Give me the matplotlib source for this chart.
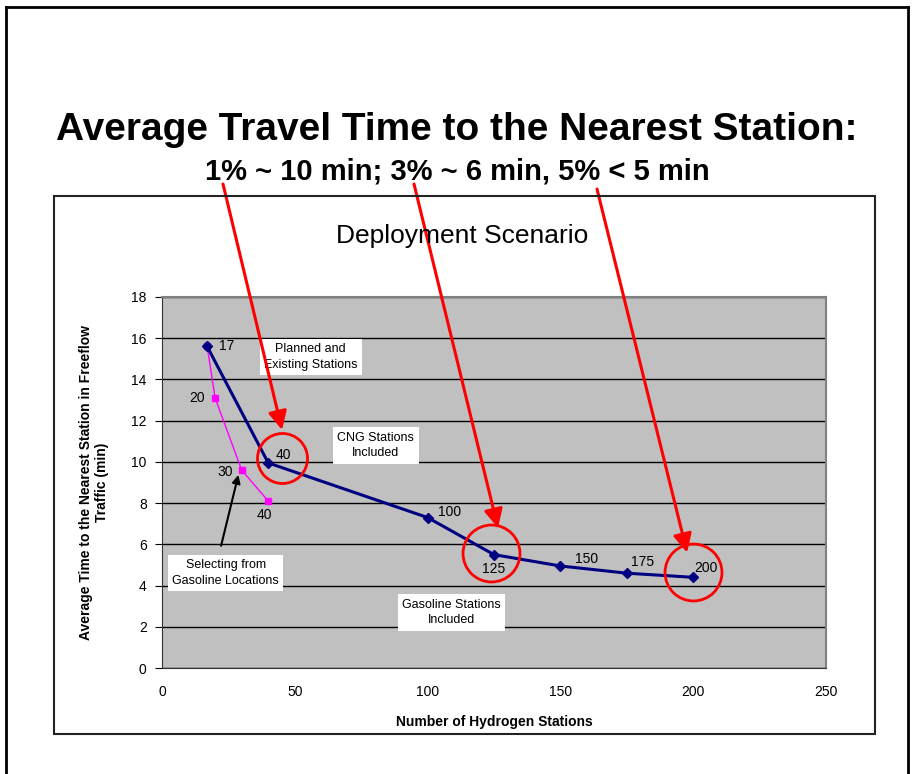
import matplotlib.pyplot as plt
from matplotlib.patches import Rectangle
from matplotlib.lines import Line2D

# deployment scenario: stations vs avg travel time (min)
stations = [17, 40, 100, 125, 150, 175, 200]
travel_time = [15.6, 9.95, 7.3, 5.5, 4.95, 4.6, 4.4]

# selecting from gasoline locations only
gas_stations = [17, 20, 30, 40]
gas_time = [15.6, 13.1, 9.6, 8.1]

# points called out in the subtitle
highlight_x = [45, 124, 200]
highlight_y = [10.2, 5.6, 4.65]

W, H = 914, 774
fig = plt.figure(figsize=(W / 100, H / 100), dpi=100)
fig.patch.set_facecolor('white')

def fx(px):
    return px / W

def fy(py):
    return 1 - py / H

arial = ['Liberation Sans', 'Arial', 'DejaVu Sans']

# slide frame
fig.add_artist(Line2D([fx(6), fx(6)], [0, fy(7)], color='black', lw=2, transform=fig.transFigure))
fig.add_artist(Line2D([fx(6), fx(908)], [fy(7), fy(7)], color='black', lw=2, transform=fig.transFigure))
fig.add_artist(Line2D([fx(908), fx(908)], [fy(7), 0], color='black', lw=2, transform=fig.transFigure))

# chart area box
fig.add_artist(Rectangle((fx(54), fy(734)), fx(875) - fx(54), fy(196) - fy(734),
                         transform=fig.transFigure, fill=False, edgecolor='#222222', lw=1.5))

fig.text(0.5, fy(130), 'Average Travel Time to the Nearest Station:', ha='center', va='center',
         fontsize=28, fontweight='bold', family=arial)
fig.text(0.5, fy(171), '1% ~ 10 min; 3% ~ 6 min, 5% < 5 min', ha='center', va='center',
         fontsize=21, fontweight='bold', family=arial)

fig.text(fx(462), fy(236), 'Deployment Scenario', ha='center', va='center',
         fontsize=19, family=arial)

ax = fig.add_axes([fx(162), fy(668), fx(826) - fx(162), fy(297) - fy(668)])
ax.set_facecolor('#C0C0C0')
ax.set_xlim(0, 250)
ax.set_ylim(0, 18)
ax.set_xticks(range(0, 251, 50))
ax.set_yticks(range(0, 19, 2))
ax.yaxis.grid(True, color='black', lw=1)
ax.set_axisbelow(True)
for side in ['top', 'right']:
    ax.spines[side].set_color('#808080')
    ax.spines[side].set_linewidth(1.5)
for side in ['left', 'bottom']:
    ax.spines[side].set_color('#333333')
ax.tick_params(axis='y', direction='out', length=5, labelsize=10, pad=6)
ax.tick_params(axis='x', direction='out', length=0, labelsize=10, pad=12)
for lab in ax.get_xticklabels() + ax.get_yticklabels():
    lab.set_family(arial)

ax.set_xlabel('Number of Hydrogen Stations', fontsize=10, fontweight='bold', family=arial, labelpad=12)
ax.set_ylabel('Average Time to the Nearest Station in Freeflow\nTraffic (min)', fontsize=10,
              fontweight='bold', family=arial, labelpad=16)

ax.plot(gas_stations, gas_time, color='#FF00FF', lw=1, marker='s', ms=4.5, zorder=3)
ax.plot(stations, travel_time, color='#000080', lw=2.2, marker='D', ms=5, zorder=4)

# point labels (offsets in points, centred)
blue_offsets = [(14, 0), (11, 6), (16, 4), (0, -10), (19, 5), (11, 8), (9, 7)]
for x, y, (dx, dy) in zip(stations, travel_time, blue_offsets):
    ax.annotate(str(x), (x, y), xytext=(dx, dy), textcoords='offset points',
                fontsize=10, family=arial, ha='center', va='center')
pink_offsets = [(0, 0), (-13, 0), (-12, -1), (-3, -10)]
for x, y, (dx, dy) in list(zip(gas_stations, gas_time, pink_offsets))[1:]:
    ax.annotate(str(x), (x, y), xytext=(dx, dy), textcoords='offset points',
                fontsize=10, family=arial, ha='center', va='center')

# text boxes
box = dict(boxstyle='square,pad=0.35', fc='white', ec='none')
ax.text(56, 15.1, 'Planned and\nExisting Stations', ha='center', va='center', fontsize=9,
        family=arial, bbox=box, linespacing=1.4, zorder=5)
ax.text(80.5, 10.8, 'CNG Stations\nIncluded', ha='center', va='center', fontsize=9,
        family=arial, bbox=box, linespacing=1.4, zorder=5)
ax.text(24, 4.6, 'Selecting from\nGasoline Locations', ha='center', va='center', fontsize=9,
        family=arial, bbox=box, linespacing=1.4, zorder=5)
ax.text(109, 2.7, 'Gasoline Stations\nIncluded', ha='center', va='center', fontsize=9,
        family=arial, bbox=box, linespacing=1.4, zorder=5)

# black arrow to the gasoline-only curve
ax.annotate('', xy=(29, 9.5), xytext=(22, 5.8),
            arrowprops=dict(arrowstyle='-|>', color='black', lw=1.5, mutation_scale=12),
            zorder=6)

# red circles around the highlighted points
ax.plot(highlight_x[:1], highlight_y[:1], 'o', ms=36, mfc='none', mec='#FF0000', mew=2,
        zorder=6, clip_on=False)
ax.plot(highlight_x[1:], highlight_y[1:], 'o', ms=41, mfc='none', mec='#FF0000', mew=2,
        zorder=6, clip_on=False)

# red arrows from the subtitle down to the circles
tips = [(45.2, 11.55), (126.5, 6.8), (197.7, 5.6)]
tails = [(223, 184), (414, 184), (597, 189)]
for (x, y), (tx, ty) in zip(tips, tails):
    ax.annotate('', xy=(x, y), xytext=(fx(tx), fy(ty)), textcoords='figure fraction',
                arrowprops=dict(arrowstyle='-|>', color='#FF0000', lw=2.2, mutation_scale=28,
                                shrinkA=0, shrinkB=0),
                zorder=7, annotation_clip=False)

fig.savefig('out.png', dpi=100)
